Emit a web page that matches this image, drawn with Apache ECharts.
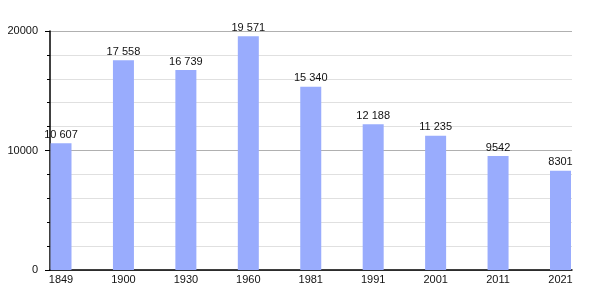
<!DOCTYPE html>
<html><head><meta charset="utf-8">
<script src="https://cdn.jsdelivr.net/npm/echarts@6/dist/echarts.min.js"></script>
<style>html,body{margin:0;padding:0;background:#fff}#c{width:600px;height:300px}</style>
</head><body><div id="c"></div>
<script>
const years = ['1849','1900','1930','1960','1981','1991','2001','2011','2021'];
const population = [10607, 17558, 16739, 19571, 15340, 12188, 11235, 9542, 8301];
const yTicks = [0, 10000, 20000];

function fmt(v){ return v >= 10000 ? String(v).replace(/\B(?=(\d{3})+(?!\d))/g, ' ') : String(v); }

const chart = echarts.init(document.getElementById('c'), null, {renderer:'canvas'});
const font = 'Liberation Sans, Arial, sans-serif';
chart.setOption({
  animation:false,
  grid:[
    {left:61, right:39.5, top:31, bottom:30},
    {left:50, right:28, top:31, bottom:30}
  ],
  xAxis:[
    {gridIndex:0, type:'category', data:years, boundaryGap:false,
     axisLine:{show:false}, axisTick:{show:false},
     axisLabel:{color:'#111', fontSize:11, fontFamily:font, margin:4}},
    {gridIndex:1, type:'value', min:0, max:1, axisLabel:{show:false}, splitLine:{show:false},
     axisTick:{show:false}, axisLine:{show:true, lineStyle:{color:'#000', width:1.5}}}
  ],
  yAxis:[
    {gridIndex:0, type:'value', min:0, max:20000, show:false, splitLine:{show:false}},
    {gridIndex:1, type:'value', min:0, max:20000, interval:10000,
     axisLine:{show:true, lineStyle:{color:'#000', width:1.5}},
     axisTick:{show:true, length:5, inside:false, lineStyle:{color:'#000'}},
     minorTick:{show:true, splitNumber:5, length:3, lineStyle:{color:'#000'}},
     splitLine:{show:true, lineStyle:{color:'#b0b0b0', width:1}},
     minorSplitLine:{show:true, lineStyle:{color:'#e0e0e0', width:1}},
     axisLabel:{color:'#111', fontSize:11, fontFamily:font, margin:12,
       formatter:function(v){ return yTicks.indexOf(v) >= 0 ? String(v) : ''; }}}
  ],
  series:[{
    type:'bar', xAxisIndex:0, yAxisIndex:0, data:population, barWidth:21,
    itemStyle:{color:'#99acfd'},
    label:{show:true, position:'top', distance:3, color:'#111', fontSize:11, fontFamily:font,
      formatter:function(p){ return fmt(p.value); }}
  }]
});
</script></body></html>
